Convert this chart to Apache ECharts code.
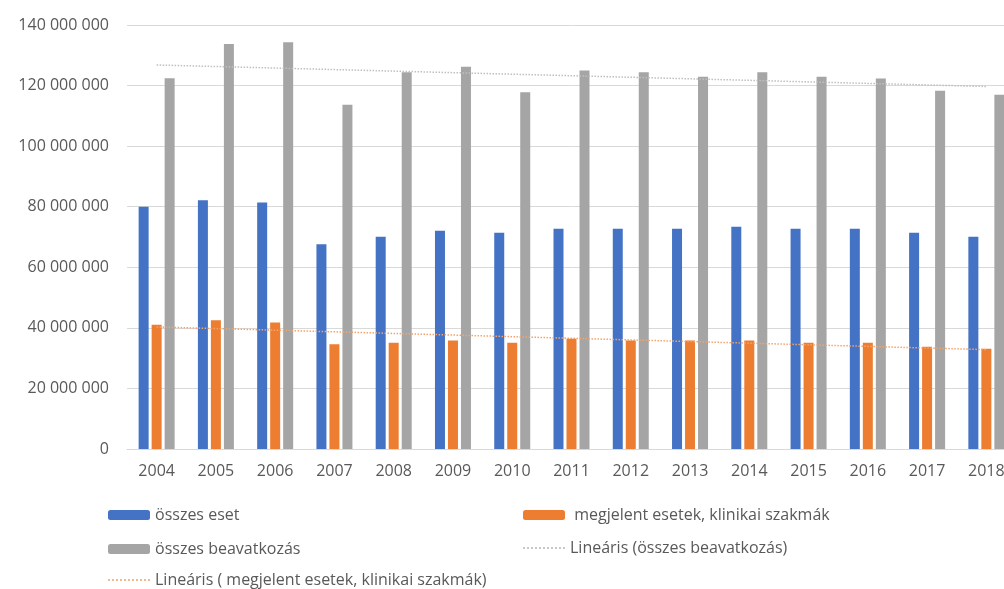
<!DOCTYPE html>
<html>
<head>
<meta charset="utf-8">
<script src="https://cdn.jsdelivr.net/npm/echarts@6/dist/echarts.min.js"></script>
<style>html,body{margin:0;padding:0;background:#fff;overflow:hidden;width:1004px;height:589px}#c{width:1040px;height:589px}</style>
</head>
<body>
<div id="c"></div>
<script>
var years = ['2004','2005','2006','2007','2008','2009','2010','2011','2012','2013','2014','2015','2016','2017','2018'];
var osszesEset = [80.0,82.1,81.4,67.6,70.1,72.1,71.4,72.7,72.7,72.7,73.4,72.7,72.7,71.4,70.1].map(function(v){return v*1e6;});
var megjelent = [41.0,42.5,41.8,34.6,35.1,35.8,35.1,36.4,35.8,35.8,35.8,35.1,35.1,33.8,33.1].map(function(v){return v*1e6;});
var beavatkozas = [122.4,133.7,134.3,113.7,124.4,126.2,117.8,125.0,124.4,122.9,124.4,122.9,122.3,118.3,117.0].map(function(v){return v*1e6;});
// trend line endpoints (2004 and 2018)
var trendBeav = [['2004',126.8e6],['2018',119.7e6]];
var trendMegj = [['2004',40.3e6],['2018',32.8e6]];

var names = ['összes eset',' megjelent esetek, klinikai szakmák','összes beavatkozás','Lineáris (összes beavatkozás)','Lineáris ( megjelent esetek, klinikai szakmák)'];
var FONT = 'Open Sans';
var txt = {color:'#595959', fontSize:16, fontFamily:FONT};
var dotPath = 'path://';
for (var i = 0; i < 11; i++) { dotPath += 'M' + (i*4) + ',0h2v2h-2z'; }
function leg(name, left, top, dotted){
  var o = {data:[name], left:left, top:top, itemWidth:42, itemHeight:10, itemGap:0, textStyle:txt, padding:0, selectedMode:false};
  if (dotted) { o.data = [{name:name, icon:dotPath}]; o.itemHeight = 2; }
  return o;
}
var chart = echarts.init(document.getElementById('c'), null, {renderer:'canvas'});
chart.setOption({
  animation:false,
  grid:{left:127, top:25, width:889, height:424, containLabel:false},
  xAxis:{type:'category', data:years,
    axisLine:{lineStyle:{color:'#d9d9d9', width:1}},
    axisTick:{show:false},
    axisLabel:{color:'#595959', fontSize:16, fontFamily:FONT, margin:14}},
  yAxis:{type:'value', min:0, max:140e6, interval:20e6,
    axisLine:{show:false}, axisTick:{show:false},
    splitLine:{lineStyle:{color:'#d9d9d9', width:1}},
    axisLabel:{color:'#595959', fontSize:16, fontFamily:FONT, margin:18,
      formatter:function(v){return String(Math.round(v)).replace(/\B(?=(\d{3})+(?!\d))/g,' ');}}},
  legend:[
    leg(names[0],108,507),
    leg(names[1],523,507),
    leg(names[2],108,541),
    leg(names[3],523,540,true),
    leg(names[4],108,572,true)
  ],
  series:[
    {name:names[0], type:'bar', data:osszesEset, barWidth:10, barGap:'30%', itemStyle:{color:'#4472c4'}},
    {name:names[1], type:'bar', data:megjelent, barWidth:10, barGap:'30%', itemStyle:{color:'#ed7d31'}},
    {name:names[2], type:'bar', data:beavatkozas, barWidth:10, barGap:'30%', itemStyle:{color:'#a5a5a5'}},
    {name:names[3], type:'line', data:trendBeav, symbol:'none', z:5, lineStyle:{color:'#bfbfbf', width:1.5, type:'dotted'}, itemStyle:{color:'#c8c8c8'}},
    {name:names[4], type:'line', data:trendMegj, symbol:'none', z:5, lineStyle:{color:'#f4a46a', width:1.5, type:'dotted'}, itemStyle:{color:'#f6b88a'}}
  ]
});
</script>
</body>
</html>
